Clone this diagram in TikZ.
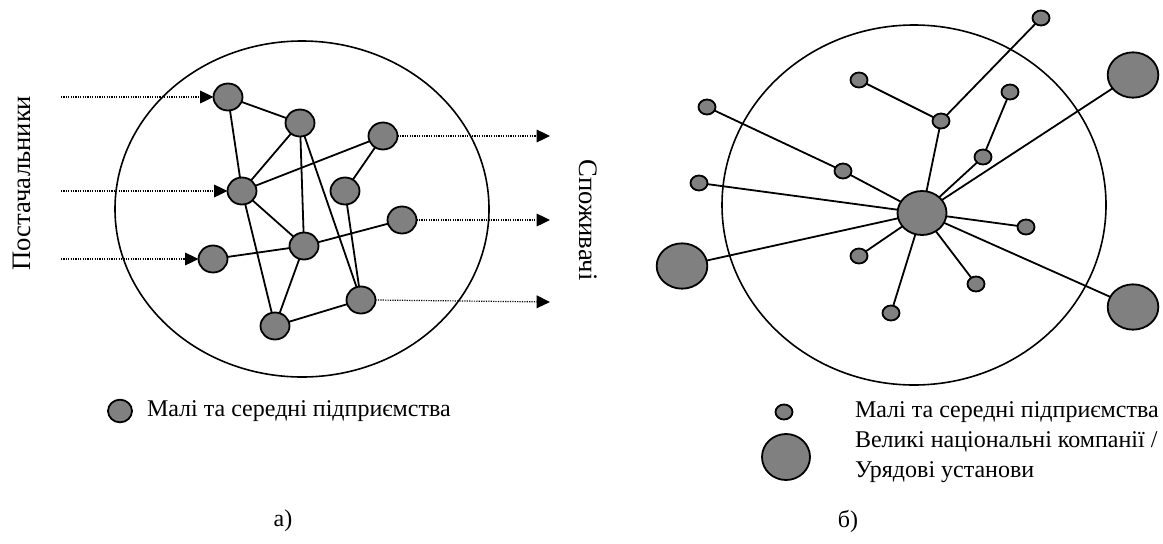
\documentclass[tikz,border=0pt]{standalone}
\usepackage{fontspec}
\setmainfont{Liberation Serif}
\usetikzlibrary{arrows.meta,shapes.geometric}
\definecolor{gfill}{HTML}{808080}
\begin{document}
\begin{tikzpicture}[x=0.75pt,y=-0.75pt,
  every node/.style={inner sep=0pt,outer sep=0pt},
  firm/.style={ellipse,draw,fill=gfill,line width=1.35pt,minimum width=21.75pt,minimum height=20.25pt},
  small/.style={ellipse,draw,fill=gfill,line width=1.35pt,minimum width=12.75pt,minimum height=11.25pt},
  big/.style={ellipse,draw,fill=gfill,line width=1.35pt,minimum width=38pt,minimum height=34pt},
  hub/.style={ellipse,draw,fill=gfill,line width=1.35pt,minimum width=36.75pt,minimum height=33pt},
  market/.style={ellipse,draw,line width=1.2pt},
  link/.style={line width=1.35pt},
  flow/.style={line width=0.9pt,dash pattern=on 0.9pt off 0.9pt,-{Triangle[length=10pt,width=9.5pt]}},
  lbl/.style={font=\fontsize{18}{21}\selectfont},
  side/.style={font=\fontsize{20}{24}\selectfont}]
\path[use as bounding box] (0,0) rectangle (1163,543);

% ---------- panel a ----------
\node[market,minimum width=280.5pt,minimum height=252pt] (ma) at (302,209) {};
\node[firm] (n1) at (228,97) {};
\node[firm] (n2) at (300,123) {};
\node[firm] (n3) at (383,136) {};
\node[firm] (n4) at (242,191) {};
\node[firm] (n5) at (345,191) {};
\node[firm] (n6) at (402,220) {};
\node[firm] (n7) at (213,259) {};
\node[firm] (n8) at (304,246) {};
\node[firm] (n9) at (361,300) {};
\node[firm] (n10) at (275,326) {};
\draw[link] (n1) -- (n2);
\draw[link] (n1) -- (n4);
\draw[link] (n2) -- (n4);
\draw[link] (n2) -- (n8);
\draw[link] (n2) -- (n9);
\draw[link] (n3) -- (n4);
\draw[link] (n3) -- (n5);
\draw[link] (n4) -- (n8);
\draw[link] (n4) -- (n10);
\draw[link] (n5) -- (n9);
\draw[link] (n7) -- (n8);
\draw[link] (n8) -- (n6);
\draw[link] (n8) -- (n10);
\draw[link] (n9) -- (n10);

\coordinate (i1) at (61,97);
\coordinate (i2) at (61,191);
\coordinate (i3) at (61,259);
\coordinate (o1) at (550,136);
\coordinate (o2) at (550,220);
\coordinate (o3) at (550,302);
\draw[flow] (i1) -- (n1.west);
\draw[flow] (i2) -- (n4.west);
\draw[flow] (i3) -- (n7.west);
\draw[flow] (n3.east) -- (o1);
\draw[flow] (n6.east) -- (o2);
\draw[flow] (n9.east) -- (o3);

\node[side,rotate=90] (sup) at (22,183) {Постачальники};
\node[side,rotate=-90] (con) at (588,220) {Споживачі};

\node[firm,minimum width=18pt,minimum height=17pt] (la) at (120,411) {};
\node[lbl,anchor=west] (lat) at (147,411) {Малі та середні підприємства};
\node[lbl] (capa) at (283,521) {а)};

% ---------- panel b ----------
\node[market,minimum width=288pt,minimum height=270pt] (mb) at (914,205) {};
\node[hub] (C) at (922,213) {};
\node[small] (s1) at (1041,18) {};
\node[small] (s2) at (859,80) {};
\node[small] (s3) at (1010,92) {};
\node[small] (s4) at (707,107) {};
\node[small] (s5) at (941,121) {};
\node[small] (s6) at (983,157) {};
\node[small] (s7) at (843,171) {};
\node[small] (s8) at (699,183) {};
\node[small] (s9) at (1026,227) {};
\node[small] (s10) at (859,256) {};
\node[small] (s11) at (976,284) {};
\node[small] (s12) at (891,313) {};
\node[big] (B1) at (1133,75) {};
\node[big] (B2) at (682,266) {};
\node[big] (B3) at (1133,307) {};
\draw[link] (s1) -- (s5);
\draw[link] (s2) -- (s5);
\draw[link] (s5) -- (C);
\draw[link] (s3) -- (s6);
\draw[link] (s6) -- (C);
\draw[link] (B1) -- (C);
\draw[link] (s4) -- (s7);
\draw[link] (s7) -- (C);
\draw[link] (s8) -- (C);
\draw[link] (B2) -- (C);
\draw[link] (s9) -- (C);
\draw[link] (s10) -- (C);
\draw[link] (s11) -- (C);
\draw[link] (s12) -- (C);
\draw[link] (B3) -- (C);

\node[small] (lb1) at (784,412) {};
\node[big,minimum width=36pt,minimum height=34.5pt] (lb2) at (786,457) {};
\node[lbl,anchor=west] (lbt1) at (855,412) {Малі та середні підприємства};
\node[lbl,anchor=west] (lbt2) at (855,442) {Великі національні компанії /};
\node[lbl,anchor=west] (lbt3) at (855,472) {Урядові установи};
\node[lbl] (capb) at (848,521) {б)};
\end{tikzpicture}
\end{document}
